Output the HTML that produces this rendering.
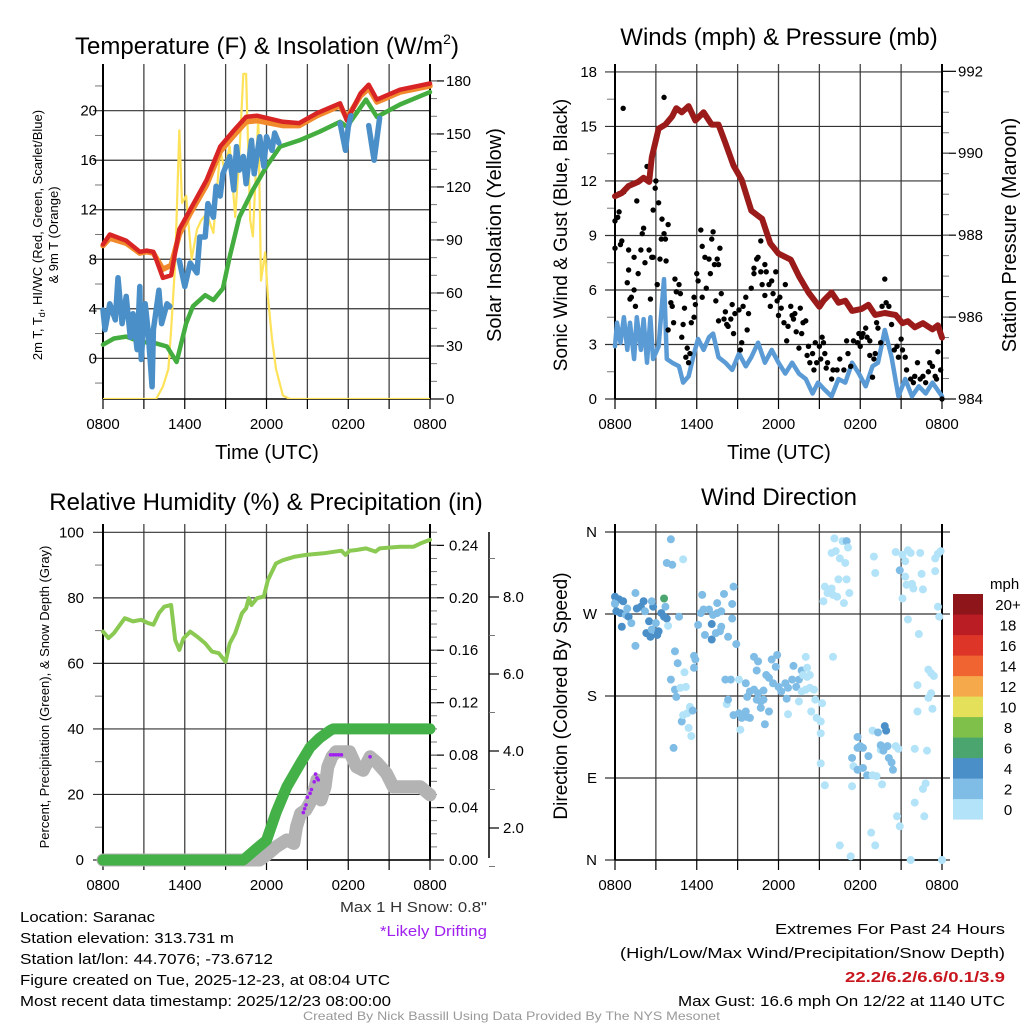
<!DOCTYPE html>
<html><head><meta charset="utf-8"><style>
html,body{margin:0;padding:0;background:#fff;}
svg{display:block;font-family:"Liberation Sans",sans-serif;}
</style></head><body>
<svg id="chart" width="1024" height="1024" viewBox="0 0 1024 1024" xmlns="http://www.w3.org/2000/svg">
<rect width="1024" height="1024" fill="#fff"/>
<g id="layer"></g>
<g font-size="24" text-anchor="middle" fill="#000">
<text x="267" y="54">Temperature (F) &amp; Insolation (W/m<tspan font-size="14" dy="-10">2</tspan><tspan dy="10">)</tspan></text>
<text x="779" y="45">Winds (mph) &amp; Pressure (mb)</text>
<text x="266" y="510">Relative Humidity (%) &amp; Precipitation (in)</text>
<text x="779" y="505">Wind Direction</text>
</g>
<g font-size="20" text-anchor="middle">
<text x="267" y="459">Time (UTC)</text>
<text x="779" y="459">Time (UTC)</text>
<text transform="translate(501,235) rotate(-90)">Solar Insolation (Yellow)</text>
<text transform="translate(567,235) rotate(-90)" font-size="19">Sonic Wind &amp; Gust (Blue, Black)</text>
<text transform="translate(1016,235) rotate(-90)">Station Pressure (Maroon)</text>
<text transform="translate(567,696) rotate(-90)" font-size="19">Direction (Colored By Speed)</text>
</g>
<g font-size="13" text-anchor="middle">
<text transform="translate(42,235) rotate(-90)">2m T, T<tspan font-size="9" dy="3">d</tspan><tspan dy="-3">, HI/WC (Red, Green, Scarlet/Blue)</tspan></text>
<text transform="translate(58,235) rotate(-90)">&amp; 9m T (Orange)</text>
<text transform="translate(49,697) rotate(-90)">Percent, Precipitation (Green), &amp; Snow Depth (Gray)</text>
</g>
<g font-size="15" fill="#000">
<text x="20" y="922" textLength="135" lengthAdjust="spacingAndGlyphs">Location: Saranac</text>
<text x="20" y="943" textLength="214" lengthAdjust="spacingAndGlyphs">Station elevation: 313.731 m</text>
<text x="20" y="964" textLength="253" lengthAdjust="spacingAndGlyphs">Station lat/lon: 44.7076; -73.6712</text>
<text x="20" y="985" textLength="370" lengthAdjust="spacingAndGlyphs">Figure created on Tue, 2025-12-23, at 08:04 UTC</text>
<text x="20" y="1006" textLength="371" lengthAdjust="spacingAndGlyphs">Most recent data timestamp: 2025/12/23 08:00:00</text>
<text x="340" y="912" textLength="147" lengthAdjust="spacingAndGlyphs" fill="#333">Max 1 H Snow: 0.8"</text>
<text x="380" y="936" textLength="107" lengthAdjust="spacingAndGlyphs" fill="#a020f0">*Likely Drifting</text>
<text x="775" y="934" textLength="230" lengthAdjust="spacingAndGlyphs">Extremes For Past 24 Hours</text>
<text x="620" y="958" textLength="385" lengthAdjust="spacingAndGlyphs">(High/Low/Max Wind/Precipitation/Snow Depth)</text>
<text x="845" y="982" textLength="160" lengthAdjust="spacingAndGlyphs" fill="#c8161e" font-weight="bold">22.2/6.2/6.6/0.1/3.9</text>
<text x="678" y="1006" textLength="327" lengthAdjust="spacingAndGlyphs">Max Gust: 16.6 mph On 12/22 at 1140 UTC</text>
<text x="303" y="1020" font-size="12" textLength="417" lengthAdjust="spacingAndGlyphs" fill="#999">Created By Nick Bassill Using Data Provided By The NYS Mesonet</text>
</g>
</svg>
<script>
// ---- data (hours since 0800 UTC) ----
const xTickLabels=["0800","1400","2000","0200","0800"];
const tempT=[[0,9.2],[0.5,10],[1.7,9.5],[2.7,8.6],[3.2,8.7],[3.7,8.6],[4.4,6.5],[5,6.7],[5.6,10.4],[6.4,12],[7.6,14.4],[8.6,17.1],[9.6,18.4],[10.5,19.5],[11.3,19.6],[13.2,19.1],[14.4,19],[15.7,19.8],[17.4,20.6],[17.9,19.2],[18.9,21.4],[19.5,22.1],[20.1,20.9],[21.8,21.7],[24,22.2]];
const temp9m=[[0,9.1],[0.5,9.7],[1.7,9.3],[2.7,8.5],[3.2,8.6],[3.7,8.5],[4.4,7.2],[5,7.5],[5.6,10],[6.4,11.7],[7.6,14],[8.6,16.7],[9.6,18],[10.5,19.1],[11.3,19.2],[13.2,18.8],[14.4,18.8],[15.7,19.6],[17.4,20.4],[17.9,19.4],[18.9,21.2],[19.5,21.8],[20.1,20.7],[21.8,21.5],[24,22]];
const dewpt=[[0,1.1],[0.8,1.6],[1.7,1.75],[2.7,1.35],[3.9,1.2],[4.7,0.95],[5.4,-0.3],[6.1,2.8],[6.6,4.2],[7.5,5.1],[8.1,4.7],[8.8,5.65],[9.3,8.2],[10,11.4],[11,13.6],[12,15.5],[13,17.1],[14.4,17.6],[15.9,18.3],[17.4,19.1],[17.9,18.7],[19.3,20.9],[20.1,19.5],[21.8,20.5],[24,21.5]];
const windChill=[[0,3.9],[0.15,2.3],[0.5,4.4],[0.9,3.1],[1.1,6.5],[1.4,2.8],[1.7,5],[2,1.7],[2.2,3.6],[2.5,0.7],[2.7,5.8],[2.8,-0.1],[3.1,4.4],[3.3,2.3],[3.6,-2.3],[3.7,2.3],[4.1,5.5],[4.3,2.8],[4.7,4.4],[4.9,4.2],null,[5.6,7.9],[6,5.8],[6.4,7.7],[6.9,6.9],[7.1,9.8],[7.5,9.8],[7.7,12.5],[8.1,11.4],[8.3,13.9],[8.6,13.1],[8.8,14.9],[9.3,16.3],[9.6,13.6],[9.8,17.1],[10,15.2],[10.3,16.3],[10.5,14.1],[10.9,17.6],[11.1,14.9],[11.5,17.9],[11.8,15.5],[12,17.9],[12.4,16.8],[12.6,18.2],[12.9,17.4],null,[17.4,19],[17.8,16.8],[18,18.7],[18.2,19.6],null,[19.5,18.8],[19.9,16],[20.3,19.4]];
const solar=[[0,0],[3.9,0],[4.4,7],[4.8,17],[5,39],[5.3,77],[5.6,152],[5.8,111],[6.1,115],[6.5,79],[6.9,96],[7.2,101],[7.6,105],[8.1,94],[8.6,141],[8.9,130],[9.3,143],[9.7,103],[10,137],[10.3,184],[10.5,184],[10.8,101],[11,92],[11.4,160],[11.6,67],[11.9,83],[12.1,58],[12.4,34],[12.7,17],[13.2,2],[13.7,0],[24,0]];
const pressure=[[0,988.95],[0.5,989.03],[1,989.2],[1.7,989.3],[2.1,989.4],[2.5,989.3],[2.7,989.9],[3.2,990.6],[3.7,990.7],[4.2,990.9],[4.5,991.1],[4.9,991],[5.4,991.15],[5.9,990.8],[6.5,991],[7.1,990.7],[7.6,990.7],[8.1,990.25],[8.7,989.7],[9.3,989.35],[10,988.6],[10.8,988.4],[11.4,987.8],[12,987.55],[12.9,987.4],[13.5,987],[14.2,986.6],[15,986.25],[15.3,986.4],[15.9,986.6],[16.4,986.35],[16.9,986.4],[17.4,986.15],[18.1,986.2],[18.6,986.3],[19.1,986.05],[19.8,986.1],[20.6,986.05],[21.1,985.85],[21.5,985.9],[22,985.75],[22.6,985.85],[23.3,985.7],[23.7,985.8],[24,985.5]];
const sonic=[[0,2.9],[0.15,4.2],[0.4,3.1],[0.65,4.5],[0.9,2.7],[1.1,4.2],[1.4,2.2],[1.6,4.5],[1.9,2.7],[2.1,4.4],[2.35,2],[2.6,4.5],[2.8,2.2],[3.2,2.9],[3.6,6.6],[3.8,2.2],[4.2,2],[4.7,1.8],[5,0.9],[5.4,1.25],[5.8,2.5],[6.1,3.3],[6.5,2.7],[6.9,3.4],[7.2,3.6],[7.6,2.3],[8.1,2],[8.6,1.6],[9.1,2.5],[9.6,1.8],[10,2.3],[10.5,3.1],[11,2],[11.5,2.7],[12,2],[12.5,1.4],[13,2],[13.5,1.4],[14,1.1],[14.5,0.3],[14.9,0.9],[15.4,0.5],[15.9,0.15],[16.4,1.1],[16.9,0.9],[17.4,2],[17.9,1.4],[18.4,0.7],[18.9,1.8],[19.3,2],[19.8,3.8],[20.3,2.3],[20.8,0.15],[21.3,1.1],[21.8,0.15],[22.3,0.7],[22.8,0.3],[23.3,0.9],[24,0.15]];
const gust=[[0.6,16],[3.6,16.6],[0,9.8],[0,8.3],[0.2,10],[0.3,11.3],[0.65,11.4],[0.3,10.3],[0.4,8.5],[0.5,8.7],[1,8.2],[0.9,6.4],[1,7.1],[1.1,5.5],[1.2,5.6],[1.4,6],[1.5,5.1],[1.4,7.8],[1.6,10.9],[1.7,6.9],[1.9,8.2],[2,9.1],[2.1,9.4],[2.2,7.5],[2.35,12.8],[2.5,8.2],[2.6,5.5],[2.7,7.8],[2.8,7.8],[2.8,10.4],[2.95,11.6],[3,12],[3.1,6.3],[3.2,10.8],[3.3,7.7],[3.4,8.8],[3.45,9.9],[3.6,9.1],[3.7,8.8],[3.75,7.6],[3.9,9.6],[3.9,3.8],[4.1,5.3],[4.2,5.1],[4.3,4.2],[4.4,6.6],[4.5,5.9],[4.7,6.3],[4.8,5.8],[4.9,3.4],[5,4.1],[5.1,5],[5.2,2.3],[5.3,2.8],[5.4,2],[5.5,2.5],[5.6,4.2],[5.8,4.5],[5.8,5.6],[5.9,5.2],[6,6.9],[6.1,6.5],[6.3,9.3],[6.4,8.4],[6.4,5.6],[6.6,7.8],[6.7,6.1],[6.9,7.7],[7,6.9],[7.1,8.8],[7.2,9.2],[7.3,7.4],[7.4,5.4],[7.5,7.7],[7.6,7.4],[7.6,4.3],[7.7,8.3],[7.8,5.8],[8,4.4],[8.1,4.8],[8.2,4.1],[8.3,4],[8.5,4.4],[8.6,5.2],[8.7,3.6],[8.8,4.7],[9.1,4.9],[9.2,2.7],[9.3,3.1],[9.4,5.1],[9.6,5.6],[9.7,3.8],[9.8,4.7],[10,6.1],[10.2,6.9],[10.2,7.2],[10.4,7.7],[10.5,7.8],[10.7,7],[10.7,8.7],[10.8,6.3],[11,5.7],[11,7.4],[11.1,7],[11.3,6.3],[11.4,5.1],[11.5,6.5],[11.6,5.8],[11.8,7],[11.9,5.4],[12,4.6],[12.1,5.6],[12.2,5],[12.4,4.2],[12.5,6.3],[12.6,3.2],[12.7,4],[12.9,5.1],[13,4.6],[13.1,4.4],[13.2,4.7],[13.3,3.7],[13.5,2.8],[13.6,5],[13.7,3.6],[13.8,4.2],[14,4.3],[14.1,2.4],[14.2,2.9],[14.3,2],[14.5,2.5],[14.6,1.6],[14.7,3.1],[14.8,2],[15,2.9],[15.1,2.2],[15.2,3.4],[15.3,3.1],[15.4,2.5],[15.5,1.7],[15.6,2],[15.9,1.1],[16,1.6],[16.3,1.6],[16.5,2.2],[16.8,1.6],[17,3.2],[17.1,2.5],[17.3,1.8],[17.5,3.2],[17.8,3.1],[17.9,3.6],[18,2.9],[18.1,3.4],[18.2,3.6],[18.4,3.9],[18.5,3.4],[18.7,3.2],[18.7,2.4],[18.9,1.2],[19,2.2],[19.1,2.5],[19.2,4.2],[19.3,3.9],[19.5,3.1],[19.6,5.1],[19.8,6.6],[19.9,5.3],[20.1,5.1],[20.3,4.1],[20.5,2.7],[20.7,2.9],[20.8,2.3],[21,3.3],[21.1,2.7],[21.3,2.3],[21.4,1.6],[21.7,1.1],[21.9,0.9],[22,1.25],[22.2,2],[22.4,1.1],[22.6,1.25],[22.8,0.9],[23,1.5],[23.1,2],[23.3,1.8],[23.5,1.25],[23.6,1.1],[23.7,2.6],[23.9,1.6],[24,0]];
const rh=[[0,69.7],[0.4,67.7],[0.8,69.2],[1.6,73.8],[2.2,72.8],[2.8,73.3],[3.3,72.3],[3.7,71.8],[4.1,75.3],[4.5,77.3],[5,77.8],[5.3,67.1],[5.6,64.1],[5.9,67.6],[6.4,69.7],[6.9,68.2],[7.5,66.1],[8,63.6],[8.5,63.1],[9,60.5],[9.3,66.1],[9.7,69.2],[10.2,75.3],[10.5,76.8],[10.7,79.9],[10.9,77.8],[11.3,79.9],[11.8,80.4],[12.1,85.4],[12.7,90.5],[13.2,91.5],[14,92.5],[14.9,93.1],[16.2,93.6],[17.5,94.4],[17.8,93.1],[18.1,94.4],[18.6,94.6],[19.3,95.1],[20,94.1],[20.3,95.1],[21.8,95.6],[22.8,95.6],[23.3,96.6],[24,97.7]];
const precip=[[0,0],[10.3,0],[11.3,0.009],[12,0.015],[12.7,0.036],[13.5,0.056],[14.5,0.074],[15.2,0.086],[15.9,0.093],[16.7,0.099],[16.9,0.1],[24,0.1]];
const snow=[[0,0],[11.5,0],[12,1.3],[12.7,1.51],[13.5,1.69],[14,1.6],[14.2,2.03],[14.5,2.38],[14.9,2.47],[15.3,2.73],[15.7,3.25],[16,2.73],[16.3,3.07],[16.5,3.59],[16.8,3.85],[17.1,3.98],[18.1,3.98],[18.6,3.59],[19.1,3.5],[19.6,3.85],[20.1,3.7],[20.8,3.42],[21.3,3.07],[23.3,3.07],[24,2.86]];
const drift=[[14.7,2.4],[14.8,2.5],[14.9,2.6],[15,2.8],[15.2,2.9],[15.3,3],[15.5,3.2],[15.6,3.4],[15.7,3.3],[15.8,3.25],[16.7,3.9],[16.9,3.9],[17.1,3.9],[17.3,3.9],[17.5,3.9],[19.6,3.85]];
const windDir=[[0,289,5],[0,282,3],[0.3,286,5],[0.6,284,5],[0,281,3],[0.1,273,5],[0.4,271,5],[0.8,269,3],[1,267,5],[0.5,256,5],[0.9,276,3],[1.2,260,3],[1.5,293,3],[1.6,276,5],[1.9,278,5],[2.1,284,5],[2.2,273,3],[2.5,262,5],[2.3,249,5],[2.6,245,5],[2.7,253,3],[2.8,278,5],[3,260,3],[3.1,247,5],[3.2,251,5],[2.7,284,3],[1.5,235,3],[3.4,271,5],[3.6,267,5],[3.8,265,5],[3.7,278,3],[3.9,257,1],[3.6,287,7],
[4.1,352,3],[3.8,326,3],[4.2,324,3],[5,330,1],[4.7,267,3],[4.4,229,3],[4.6,216,3],[4.1,198,3],[4.4,187,3],[4.5,179,3],[4.8,189,1],[5.2,190,1],[5.1,206,1],[5.8,224,3],[5.9,220,3],[5.8,211,3],[4.9,152,3],[5,159,1],[5.3,161,1],[5.5,168,1],[5.7,164,3],[5.4,145,1],[5.6,136,1],[4.3,123,3],
[6.3,271,3],[6.5,275,3],[6.9,275,3],[7.2,269,3],[7.5,271,3],[7.8,273,3],[6.4,291,3],[7.5,282,3],[8,292,3],[8.7,300,3],[8.6,281,3],[6.1,258,3],[6.6,247,3],[7.1,242,5],[7.1,259,5],[7.4,249,3],[7.7,251,3],[7.8,256,3],[8.3,245,3],[8.6,265,3],[8.9,237,3],[8.1,198,3],[8.5,198,3],[9.1,198,1],[8.2,171,1],[8.3,176,3],[8.7,159,3],[9.1,161,3],[9.3,156,3],[9.6,163,3],[9.7,157,3],[9.9,156,3],[9.2,143,1],[10.5,183,3],[10.9,186,3],[11,149,3],[11.3,163,3],
[9.6,194,3],[9.7,179,3],[9.9,185,3],[10.2,187,3],[10.4,176,3],[10.7,174,3],[10.9,176,3],[10.7,167,3],[10.2,223,3],[10.5,218,3],[10.4,208,3],[11.1,203,3],[11.3,200,3],[11.5,220,3],[11.8,212,3],[11.9,225,3],[11.6,194,3],[12,190,3],[12.2,185,3],[12.5,194,3],[12.7,189,3],[12.6,177,3],[13,198,3],[13.1,213,3],[13.3,190,3],[13.5,198,3],[13.7,208,3],[13.8,203,1],[14.1,201,1],[14.3,203,1],[14,223,1],[14.1,211,1],[13.7,185,1],[14,187,1],[14.3,189,1],[14.6,187,1],[13.5,174,1],[12.7,160,1],[14.4,163,1],[14.7,176,1],[14.8,156,1],[15.1,152,1],[15.2,172,1],[15.1,139,1],[15.1,106,1],[15.4,82,1],[16,223,1],
[15.3,284,1],[15.4,300,1],[15.6,293,1],[15.9,298,1],[16,291,1],[16.3,289,1],[15.9,337,1],[16.2,339,1],[16.5,331,1],[16.1,353,1],[16.7,350,1],[16.9,326,1],[17,350,3],[17.1,343,1],[16.4,308,1],[17,308,1],[17.2,293,1],[16.8,282,1],
[17.8,135,3],[17.4,112,3],[17.8,123,3],[18,125,3],[18.2,123,3],[18.6,114,3],[17.5,103,1],[17.8,99,3],[18.2,101,3],[18.5,93,3],[18.9,93,1],[19.2,92,1],[19.6,83,1],[19.5,121,1],[18.9,142,1],[19.3,140,3],[19.8,147,5],[19.9,142,5],[19.5,126,3],[19.7,120,3],[20,125,3],[20.1,112,3],[20.3,107,3],[20.4,99,3],[20.6,125,1],[20.8,122,1],[17.4,81,1],[18.8,30,1],[19.1,16,1],[16.5,16,1],[17.3,4,1],
[19,333,1],[19.1,315,1],[20.6,338,1],[20.9,318,3],[21.1,335,1],[21.3,328,1],[21.5,340,1],[21.7,337,1],[22.4,337,1],[21.3,311,1],[21.4,302,1],[21.8,303,1],[21.9,298,1],[21.1,287,1],[22.5,314,1],[22.6,297,1],[21.5,264,1],[22.3,248,1],[23.5,331,1],[23.7,336,1],[23.9,339,1],[23.5,317,1],[23.7,278,1],[23.8,267,1],[23,209,1],[23.2,205,1],[23.4,202,1],[22.2,192,1],[23.2,183,1],[23,178,1],[23.3,166,1],[22.2,163,1],[22,122,1],[22.9,120,1],[22.8,84,1],[22.6,78,1],[22,63,1],[20.7,48,1],[20.9,37,1],[22.7,48,1],[21.7,0,1],[24,0,1]];
const speedLabels=["0","2","4","6","8","10","12","14","16","18","20+"];
const speedColors=["#b3e3f8","#80bde6","#4a8fc7","#4aa66e","#7fc04b","#e5e05a","#f6a94a","#ef6430","#dd3528","#bb1d24","#8e1519"];
const tempTicks=[0,4,8,12,16,20];
const solarTicks=[0,30,60,90,120,150,180];
const windTicks=[0,3,6,9,12,15,18];
const presTicks=[984,986,988,990,992];
const rhTicks=[0,20,40,60,80,100];
const precTicks=[0,0.04,0.08,0.12,0.16,0.2,0.24];
const snowTicks=[2,4,6,8];
const dirLabels=["N","E","S","W","N"];
const dirTicks=[0,90,180,270,360];

const NS="http://www.w3.org/2000/svg";
const root=document.getElementById('layer');
function mk(tag,attrs,parent){const e=document.createElementNS(NS,tag);for(const k in attrs)e.setAttribute(k,attrs[k]);(parent||root).appendChild(e);return e;}
function xs(L){return h=>L+h*(327/24);}
const P={tl:{L:103,T:72,B:399},tr:{L:615,T:72,B:399},bl:{L:103,T:532,B:860},br:{L:615,T:532,B:860}};
const yTemp=v=>358.3-v*12.38, ySol=v=>399-v*1.767;
const yWind=v=>399-v*18.17, yPres=p=>399-(p-984)*40.96;
const yRH=v=>860-v*3.277, yPrec=v=>860-v*1311, ySnow=v=>Math.min(860,905-v*38.5);
const yDir=d=>860-d*328/360;
const TF=15;

function frame(key,name){
  const p=P[key],x=xs(p.L),g=mk('g',{});
  
  
  for(let h=0;h<=24;h+=3){mk('line',{x1:x(h),x2:x(h),y1:p.T-8,y2:p.B,stroke:'#444','stroke-width':1.3},g);
    mk('line',{x1:x(h),x2:x(h),y1:p.B,y2:p.B+10,stroke:'#000','stroke-width':1.2},g);}
  xTickLabels.forEach((s,i)=>{const t=mk('text',{x:x(i*6),y:p.B+30,'font-size':TF,'text-anchor':'middle'},g);t.textContent=s;
    
    });
  return g;
}
function hgrid(g,key,vals,fy,labels,side,lx){
  const p=P[key],x=xs(p.L);
  vals.forEach((v,i)=>{const y=fy(v);
    if(side==='left'){mk('line',{x1:x(0)-10,x2:x(24),y1:y,y2:y,stroke:'#333','stroke-width':1.2},g);}
    else{mk('line',{x1:x(24),x2:x(24)+14,y1:y,y2:y,stroke:'#000','stroke-width':1.2},g);}
    const t=mk('text',{x:lx,y:y+5,'font-size':TF,'text-anchor':side==='left'?'end':'start'},g);t.textContent=labels?labels[i]:v;
    
    });
}
function minor(g,key,fy,from,to,step,side){const p=P[key],x=xs(p.L);for(let v=from;v<=to+1e-9;v+=step){const y=fy(v);
  if(side==='left')mk('line',{x1:x(0)-8,x2:x(0),y1:y,y2:y,stroke:'#777','stroke-width':1},g);else mk('line',{x1:x(24),x2:x(24)+7,y1:y,y2:y,stroke:'#777','stroke-width':1},g);}}
function border(g,key){const p=P[key],x=xs(p.L);mk('line',{x1:x(0),x2:x(0),y1:p.T-8,y2:p.B,stroke:'#000','stroke-width':2},g);mk('line',{x1:x(24),x2:x(24),y1:p.T-8,y2:p.B,stroke:'#000','stroke-width':2},g);mk('line',{x1:x(0),x2:x(24),y1:p.B,y2:p.B,stroke:'#000','stroke-width':1.5},g);}
function path(arr,fx,fy,attrs){let d='',pen=false;arr.forEach(pt=>{if(!pt){pen=false;return;}d+=(pen?'L':'M')+fx(pt[0]).toFixed(1)+','+fy(pt[1]).toFixed(1);pen=true;});
  return mk('path',Object.assign({d:d,fill:'none','stroke-linejoin':'round','stroke-linecap':'round'},attrs));}
function clip(id,key){const p=P[key],x=xs(p.L);const c=mk('clipPath',{id:id});mk('rect',{x:x(0),y:p.T,width:327,height:p.B-p.T},c);}

// ---- TL temperature ----
let g=frame('tl','temp');clip('ctl','tl');
hgrid(g,'tl',tempTicks,yTemp,null,'left',97);
minor(g,'tl',yTemp,-2,22,4,'left');
hgrid(g,'tl',solarTicks,ySol,null,'right',446);
minor(g,'tl',ySol,10,180,10,'right');
border(g,'tl');
let e;
const fxT=xs(103);
e=path(solar,fxT,ySol,{stroke:'#fde25a','stroke-width':2.2,'clip-path':'url(#ctl)'});


e=path(dewpt,fxT,yTemp,{stroke:'#44ad3f','stroke-width':4.5});


e=path(temp9m,fxT,yTemp,{stroke:'#f08a2c','stroke-width':5.5});


e=path(tempT,fxT,yTemp,{stroke:'#d82424','stroke-width':4.5});


e=path(windChill,fxT,yTemp,{stroke:'#4a8fc7','stroke-width':5.5});



// ---- TR winds ----
g=frame('tr','wind');
hgrid(g,'tr',windTicks,yWind,null,'left',597);
minor(g,'tr',yWind,1.5,16.5,3,'left');
hgrid(g,'tr',presTicks,yPres,null,'right',958);
minor(g,'tr',yPres,984.5,991.5,0.5,'right');
border(g,'tr');
const fxW=xs(615);
e=path(sonic,fxW,yWind,{stroke:'#5b9bd5','stroke-width':4.5});


const gg=mk('g',{fill:'#000'});


gust.forEach(pt=>{const c=mk('circle',{cx:fxW(pt[0]),cy:yWind(pt[1]),r:2.7},gg);
  
  });
e=path(pressure,fxW,yPres,{stroke:'#9b1a1a','stroke-width':6});



// ---- BL humidity ----
g=frame('bl','rh');
hgrid(g,'bl',rhTicks,yRH,null,'left',84);
minor(g,'bl',yRH,10,90,20,'left');
hgrid(g,'bl',precTicks,yPrec,precTicks.map(v=>v.toFixed(2)),'right',449);
minor(g,'bl',yPrec,0.01,0.25,0.01,'right');
border(g,'bl');
mk('line',{x1:489,x2:489,y1:532,y2:858,stroke:'#000','stroke-width':1.5},g);
snowTicks.forEach(v=>{const y=905-v*38.5;mk('line',{x1:489,x2:499,y1:y,y2:y,stroke:'#000','stroke-width':1.2},g);
  const t=mk('text',{x:503,y:y+5,'font-size':TF},g);t.textContent=v.toFixed(1);
  
  });
for(let v=1;v<=9.5;v+=1){if(v%2)mk('line',{x1:489,x2:495,y1:905-v*38.5,y2:905-v*38.5,stroke:'#777'},g);}
const fxB=xs(103);
e=path(snow,fxB,ySnow,{stroke:'#b3b3b3','stroke-width':13});


e=path(precip,fxB,yPrec,{stroke:'#44b048','stroke-width':11});


e=path(rh,fxB,yRH,{stroke:'#8ac952','stroke-width':4});


drift.forEach(pt=>{const c=mk('circle',{cx:fxB(pt[0]),cy:ySnow(pt[1]),r:1.8,fill:'#a020f0'});
  
  });

// ---- BR direction ----
g=frame('br','dir');
hgrid(g,'br',dirTicks,yDir,dirLabels,'left',597);
dirTicks.forEach(v=>mk('line',{x1:942,x2:950,y1:yDir(v),y2:yDir(v),stroke:'#000'},g));
border(g,'br');
const fxD=xs(615);
windDir.forEach(pt=>{const ci=Math.min(10,Math.floor(pt[2]/2));
  const c=mk('circle',{cx:fxD(pt[0]),cy:yDir(pt[1]),r:4,fill:speedColors[ci]});
  
  });
const lg=mk('g',{});


const tt=mk('text',{x:990,y:589,'font-size':15},lg);tt.textContent='mph';
speedLabels.forEach((s,i)=>{const y=799-i*20.5;
  const r=mk('rect',{x:953,y:y,width:30,height:20.6,fill:speedColors[i]},lg);
  
  
  const t=mk('text',{x:1008,y:y+16,'font-size':15,'text-anchor':'middle'},lg);t.textContent=s;
  
  });
</script>
</body></html>
